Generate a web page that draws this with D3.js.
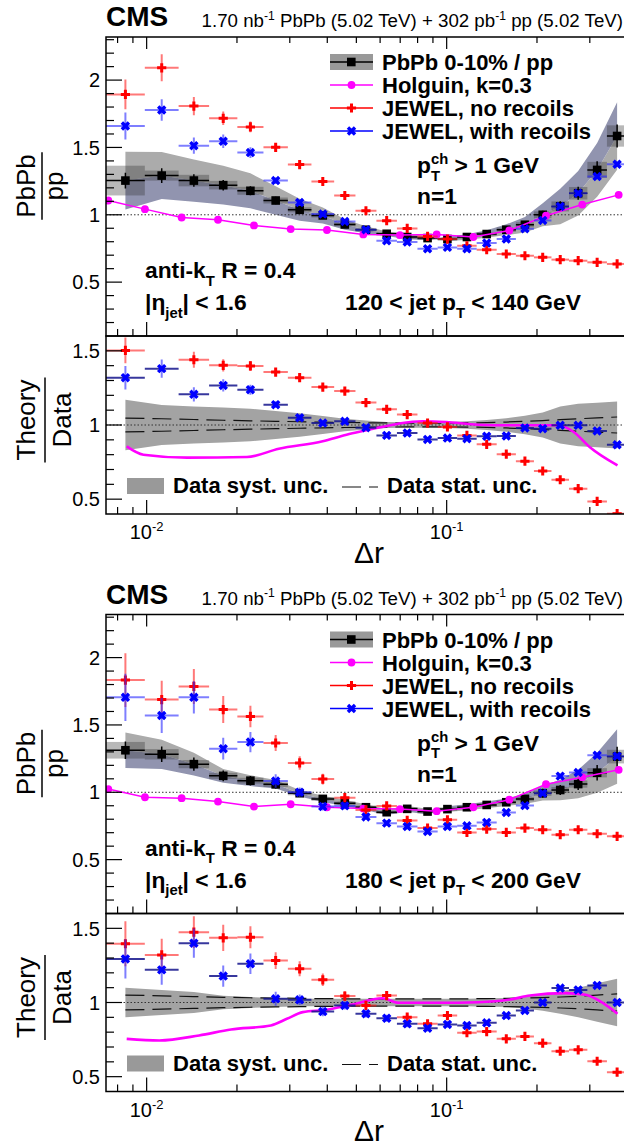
<!DOCTYPE html>
<html>
<head>
<meta charset="utf-8">
<script src="https://cdn.jsdelivr.net/npm/d3@7/dist/d3.min.js"></script>
<style>
  html, body { margin: 0; padding: 0; background: #fff; overflow: hidden; }
  svg { display: block; font-family: "Liberation Sans", Arial, Helvetica, sans-serif; }
  text { white-space: pre; }
</style>
</head>
<body>
<svg id="chart" width="624" height="1146"></svg>
<script>
// Δr bin edges, shared by both jet pT selections
const binEdges = [0.00732, 0.00986, 0.01278, 0.01615, 0.02006, 0.02451, 0.02956, 0.03542, 0.04217, 0.04966, 0.05832, 0.06827, 0.07992, 0.09333, 0.1084, 0.1259, 0.1468, 0.1701, 0.1954, 0.2235, 0.2557, 0.2944, 0.3421, 0.4]
// the Holguin calculation comes on its own Δr grid
const holguinX = [0.00745, 0.00987, 0.01308, 0.01729, 0.02279, 0.0302, 0.0399, 0.05272, 0.06987, 0.09262, 0.1227, 0.1617, 0.2143, 0.2831, 0.3744]

const legendLabels = ['PbPb 0-10% / pp', 'Holguin, k=0.3', 'JEWEL, no recoils', 'JEWEL, with recoils']
const yTicksTop = [0.5, 1, 1.5, 2]
const yTicksBottom = [0.5, 1, 1.5]
const xTickExponents = [-2, -1]

// ---- 120 < jet pT < 140 GeV ----
const ratio120 = [1.254, 1.291, 1.254, 1.22, 1.178, 1.106, 1.037, 0.995, 0.928, 0.889, 0.859, 0.835, 0.827, 0.82, 0.835, 0.857, 0.889, 0.926, 1.0, 1.062, 1.16, 1.333, 1.585]
const stat120 = [0.047, 0.042, 0.037, 0.032, 0.028, 0.025, 0.022, 0.019, 0.017, 0.015, 0.014, 0.013, 0.013, 0.013, 0.014, 0.016, 0.02, 0.025, 0.03, 0.036, 0.042, 0.048, 0.054]
// signed relative shift of the correlated systematic variation
const sys120 = [0.171, 0.135, 0.125, 0.118, 0.11, 0.095, 0.079, 0.06, 0.042, 0.03, 0.02, 0.019, 0.019, -0.02, -0.025, -0.033, -0.045, -0.063, -0.085, -0.124, -0.143, -0.15, -0.158]
const box120 = [0.088, 0.029, 0.034, 0.026, 0.025, 0.02, 0.018, 0.015, 0.015, 0.015, 0.015, 0.015, 0.015, 0.015, 0.015, 0.015, 0.018, 0.02, 0.025, 0.035, 0.04, 0.045, 0.05]
const noRec120 = [1.894, 2.091, 1.807, 1.716, 1.652, 1.501, 1.373, 1.247, 1.143, 1.03, 0.956, 0.899, 0.839, 0.82, 0.77, 0.741, 0.709, 0.696, 0.684, 0.667, 0.659, 0.647, 0.635]
const noRecErr120 = [0.11, 0.1, 0.068, 0.05, 0.04, 0.025, 0.022, 0.02, 0.018, 0.015, 0.012, 0.012, 0.012, 0.012, 0.012, 0.012, 0.01, 0.01, 0.01, 0.01, 0.01, 0.01, 0.01]
const withRec120 = [1.659, 1.778, 1.513, 1.546, 1.462, 1.254, 1.091, 1.005, 0.95, 0.889, 0.807, 0.798, 0.748, 0.758, 0.748, 0.79, 0.82, 0.896, 0.958, 1.062, 1.16, 1.284, 1.375]
const withRecErr120 = [0.1, 0.08, 0.06, 0.05, 0.04, 0.025, 0.022, 0.02, 0.018, 0.015, 0.012, 0.012, 0.012, 0.012, 0.012, 0.012, 0.012, 0.012, 0.012, 0.012, 0.012, 0.012, 0.012]
const holguin120 = [1.106, 1.042, 0.98, 0.963, 0.921, 0.894, 0.887, 0.854, 0.849, 0.854, 0.835, 0.884, 0.993, 1.076, 1.148]
const noRecOverData120 = [1.503, 1.75, 1.44, 1.402, 1.398, 1.357, 1.319, 1.256, 1.229, 1.151, 1.106, 1.07, 1.013, 0.987, 0.93, 0.87, 0.803, 0.756, 0.69, 0.631, 0.571, 0.485, 0.402]
const withRecOverData120 = [1.319, 1.38, 1.207, 1.267, 1.238, 1.137, 1.049, 1.013, 1.025, 0.982, 0.93, 0.946, 0.903, 0.912, 0.908, 0.924, 0.926, 0.98, 0.975, 0.998, 0.998, 0.96, 0.867]
const holguinOverDataX120 = [0.00858, 0.00975, 0.01366, 0.0216, 0.02758, 0.03862, 0.04638, 0.05405, 0.06902, 0.08293, 0.0996, 0.1273, 0.1727, 0.2346, 0.2651, 0.2995, 0.371]
const holguinOverData120 = [0.856, 0.8, 0.78, 0.784, 0.84, 0.89, 0.935, 0.964, 1.009, 1.025, 1.02, 1.002, 0.998, 0.998, 0.953, 0.852, 0.728]

// ---- 180 < jet pT < 200 GeV ----
const ratio180 = [1.312, 1.282, 1.209, 1.122, 1.086, 1.059, 0.993, 0.951, 0.919, 0.889, 0.852, 0.877, 0.857, 0.875, 0.889, 0.906, 0.926, 0.951, 0.993, 1.017, 1.061, 1.145, 1.265]
const stat180 = [0.05, 0.045, 0.04, 0.035, 0.032, 0.03, 0.028, 0.026, 0.025, 0.025, 0.025, 0.025, 0.025, 0.025, 0.025, 0.026, 0.028, 0.03, 0.033, 0.037, 0.042, 0.05, 0.058]
const sys180 = [0.1, 0.085, 0.07, 0.045, 0.037, 0.03, 0.025, 0.025, 0.025, 0.025, 0.025, 0.025, 0.025, -0.025, -0.025, -0.028, -0.03, -0.04, -0.055, -0.075, -0.1, -0.13, -0.16]
const box180 = [0.047, 0.03, 0.025, 0.02, 0.02, 0.018, 0.015, 0.015, 0.015, 0.015, 0.015, 0.015, 0.015, 0.015, 0.015, 0.015, 0.015, 0.018, 0.02, 0.022, 0.025, 0.03, 0.04]
const noRec180 = [1.833, 1.688, 1.786, 1.614, 1.563, 1.366, 1.218, 1.098, 0.96, 0.869, 0.899, 0.791, 0.734, 0.796, 0.702, 0.727, 0.702, 0.734, 0.722, 0.685, 0.722, 0.692, 0.673]
const noRecErr180 = [0.2, 0.14, 0.13, 0.1, 0.08, 0.06, 0.05, 0.04, 0.03, 0.025, 0.022, 0.02, 0.02, 0.02, 0.018, 0.018, 0.015, 0.015, 0.015, 0.015, 0.015, 0.015, 0.015]
const withRec180 = [1.705, 1.57, 1.705, 1.324, 1.373, 1.083, 1.0, 0.894, 0.899, 0.817, 0.771, 0.746, 0.709, 0.746, 0.751, 0.776, 0.85, 0.901, 0.993, 1.12, 1.147, 1.275, 1.268]
const withRecErr180 = [0.175, 0.13, 0.12, 0.08, 0.075, 0.05, 0.035, 0.03, 0.025, 0.022, 0.02, 0.02, 0.02, 0.02, 0.018, 0.018, 0.018, 0.015, 0.015, 0.015, 0.015, 0.015, 0.015]
const holguin180 = [1.024, 0.963, 0.956, 0.931, 0.894, 0.911, 0.889, 0.879, 0.875, 0.86, 0.889, 0.945, 1.06, 1.112, 1.167]
const noRecOverData180 = [1.396, 1.321, 1.474, 1.436, 1.44, 1.283, 1.227, 1.153, 1.043, 0.98, 1.047, 0.901, 0.856, 0.912, 0.796, 0.804, 0.755, 0.771, 0.726, 0.672, 0.681, 0.604, 0.53]
const withRecOverData180 = [1.294, 1.22, 1.4, 1.178, 1.261, 1.025, 1.018, 0.939, 0.98, 0.924, 0.894, 0.856, 0.827, 0.852, 0.845, 0.863, 0.912, 0.946, 1.0, 1.097, 1.085, 1.115, 1.0]
const holguinOverDataX180 = [0.00858, 0.01102, 0.01496, 0.01911, 0.02594, 0.02934, 0.03314, 0.03981, 0.04783, 0.0611, 0.06902, 0.09369, 0.1273, 0.1626, 0.1894, 0.2493, 0.2906, 0.3284, 0.371]
const holguinOverData180 = [0.755, 0.744, 0.778, 0.818, 0.845, 0.89, 0.935, 0.951, 0.984, 1.029, 0.998, 0.998, 1.002, 1.02, 1.047, 1.063, 1.052, 1.002, 0.924]

const X0 = 106
const X1 = 627.3
const TOP_Y0 = 37
const MID_Y = 336
const BOT_Y1 = 514
const FIG_SHIFT = 577.5

const svg = d3.select('#chart')

const x = d3.scaleLog().domain([binEdges[0], binEdges[binEdges.length - 1]]).range([X0, X1])
const yTop = d3.scaleLinear().domain([0.1, 2.32]).range([MID_Y, TOP_Y0])
const yBot = d3.scaleLinear().domain([0.4, 1.6]).range([BOT_Y1, MID_Y])

const bins = d3.range(binEdges.length - 1).map(i => ({
    lo: binEdges[i],
    hi: binEdges[i + 1],
    c: Math.sqrt(binEdges[i] * binEdges[i + 1])
}))

const plusPath = (s, t) => `M${-s},${-t}H${-t}V${-s}H${t}V${-t}H${s}V${t}H${t}V${s}H${-t}V${t}H${-s}Z`
const redMarker = plusPath(4.6, 1.5)
const blueMarker = plusPath(5, 1.7)

// text with sub/superscripts laid out piece by piece
const rich = (parent, px, py, segs, size, opts = {}) => {
    const g = parent.append('g').attr('font-weight', opts.weight || 'normal')
    let cx = 0
    const put = (s, dy, fs) => {
        const t = g.append('text').attr('x', cx).attr('y', dy).attr('font-size', fs).text(s)
        return t.node().getComputedTextLength()
    }
    segs.forEach(s => {
        if (typeof s === 'string') {
            cx += put(s, 0, size)
            return
        }
        let w = 0
        if (s.sup) w = Math.max(w, put(s.sup, -0.38 * size, 0.65 * size))
        if (s.sub) w = Math.max(w, put(s.sub, 0.34 * size, 0.65 * size))
        cx += w
    })
    const shift = opts.anchor === 'end' ? -cx : opts.anchor === 'middle' ? -cx / 2 : 0
    g.attr('transform', `translate(${px + shift},${py})`)
    return g
}

const fraction = (parent, cx, cy, num, den, size, numOff, denOff) => {
    const g = parent.append('g')
        .attr('transform', `translate(${cx},${cy}) rotate(-90)`)
        .attr('font-size', size)
    const a = g.append('text').attr('text-anchor', 'middle').attr('y', numOff).text(num)
    const b = g.append('text').attr('text-anchor', 'middle').attr('y', denOff).text(den)
    const w = Math.max(a.node().getComputedTextLength(), b.node().getComputedTextLength()) + 4
    g.append('line').attr('x1', -w / 2).attr('x2', w / 2).attr('stroke', '#000').attr('stroke-width', 1.5)
}

const errorBars = (sel, pts, yS, val, err, hColor, vColor, width) => {
    sel.selectAll(null).data(pts).join('line')
        .attr('x1', p => x(p.lo)).attr('x2', p => x(p.hi))
        .attr('y1', p => yS(val(p))).attr('y2', p => yS(val(p)))
        .attr('stroke', hColor).attr('stroke-width', width)
    sel.selectAll(null).data(pts).join('line')
        .attr('x1', p => x(p.c)).attr('x2', p => x(p.c))
        .attr('y1', p => yS(val(p) - err(p))).attr('y2', p => yS(val(p) + err(p)))
        .attr('stroke', vColor).attr('stroke-width', width)
}

const markers = (sel, pts, yS, val, path, color) => {
    sel.selectAll(null).data(pts).join('path')
        .attr('transform', p => `translate(${x(p.c)},${yS(val(p))})${path === blueMarker ? ' rotate(45)' : ''}`)
        .attr('d', path)
        .attr('fill', color)
}

const drawAxes = (g, yS, yA, yB, yMinor, yLabels, topTicks) => {
    const ticks = x.ticks()
    const isMajor = v => Math.abs(Math.log10(v) - Math.round(Math.log10(v))) < 1e-6
    g.selectAll(null).data(ticks).join('line')
        .attr('x1', d => x(d)).attr('x2', d => x(d))
        .attr('y1', yB).attr('y2', d => yB - (isMajor(d) ? 14 : 7))
        .attr('stroke', '#000').attr('stroke-width', 1.2)
    if (topTicks) {
        g.selectAll(null).data(ticks).join('line')
            .attr('x1', d => x(d)).attr('x2', d => x(d))
            .attr('y1', yA).attr('y2', d => yA + (isMajor(d) ? 12 : 6))
            .attr('stroke', '#000').attr('stroke-width', 1.2)
    }
    g.selectAll(null).data(yMinor).join('line')
        .attr('x1', X0).attr('x2', d => X0 + (yLabels.includes(d) ? 16 : 8))
        .attr('y1', d => yS(d)).attr('y2', d => yS(d))
        .attr('stroke', '#000').attr('stroke-width', 1.2)
    g.selectAll(null).data(yLabels).join('text')
        .attr('x', 100).attr('y', d => yS(d)).attr('dy', '0.36em')
        .attr('text-anchor', 'end').attr('font-size', 20)
        .text(d => d3.format('~g')(d))
    g.append('rect')
        .attr('x', X0).attr('y', yA).attr('width', X1 - X0).attr('height', yB - yA)
        .attr('fill', 'none').attr('stroke', '#000').attr('stroke-width', 1.5)
}

const drawFigure = (f) => {
    const g = svg.append('g').attr('transform', `translate(0,${f.offset})`)
    const pts = bins.map((b, i) => ({
        ...b,
        v: f.ratio[i], stat: f.stat[i], sys: f.sys[i], box: f.box[i],
        red: f.noRec[i], redErr: f.noRecErr[i],
        blue: f.withRec[i], blueErr: f.withRecErr[i],
        redR: f.noRecOverData[i], blueR: f.withRecOverData[i]
    }))

    const defs = g.append('defs')
    defs.append('clipPath').attr('id', `clipTop${f.id}`).append('rect')
        .attr('x', X0).attr('y', TOP_Y0).attr('width', X1 - X0).attr('height', MID_Y - TOP_Y0)
    defs.append('clipPath').attr('id', `clipBot${f.id}`).append('rect')
        .attr('x', X0).attr('y', MID_Y).attr('width', X1 - X0).attr('height', BOT_Y1 - MID_Y)

    // Title
    rich(g, X0, 26, ['CMS'], 28, { weight: 'bold' })
    rich(g, 623, 27, ['1.70 nb', { sup: '-1' }, ' PbPb (5.02 TeV) + 302 pb', { sup: '-1' }, ' pp (5.02 TeV)'], 18.7, { anchor: 'end' })

    // ---- upper panel ----
    const up = g.append('g').attr('clip-path', `url(#clipTop${f.id})`)
    up.append('path').datum(pts)
        .attr('d', d3.area().x(p => x(p.c)).y0(p => yTop(p.v)).y1(p => yTop(p.v * (1 + p.sys))))
        .attr('fill', '#ababab')
    up.append('path').datum(pts)
        .attr('d', d3.area().x(p => x(p.c)).y0(p => yTop(p.v)).y1(p => yTop(p.v * (1 - p.sys))))
        .attr('fill', '#9194af')
    up.selectAll(null).data(pts).join('rect')
        .attr('x', p => x(p.lo)).attr('width', p => x(p.hi) - x(p.lo))
        .attr('y', p => yTop(p.v * (1 + p.box)))
        .attr('height', p => yTop(p.v * (1 - p.box)) - yTop(p.v * (1 + p.box)))
        .attr('fill', '#333').attr('opacity', 0.35)
    up.append('line')
        .attr('x1', X0).attr('x2', X1).attr('y1', yTop(1)).attr('y2', yTop(1))
        .attr('stroke', '#333').attr('stroke-width', 1).attr('stroke-dasharray', '1.5,2')

    errorBars(up, pts, yTop, p => p.v, p => p.v * p.stat, '#000', '#000', 1.5)
    up.selectAll(null).data(pts).join('rect')
        .attr('x', p => x(p.c) - 4.3).attr('y', p => yTop(p.v) - 4.3)
        .attr('width', 8.6).attr('height', 8.6).attr('fill', '#000')

    const hol = holguinX.map((hx, i) => ({ x: hx, y: f.holguin[i] }))
    up.append('path').datum(hol)
        .attr('d', d3.line().x(d => x(d.x)).y(d => yTop(d.y)))
        .attr('fill', 'none').attr('stroke', '#ff00ff').attr('stroke-width', 1.5)
    up.selectAll(null).data(hol).join('circle')
        .attr('cx', d => x(d.x)).attr('cy', d => yTop(d.y)).attr('r', 3.9).attr('fill', '#ff00ff')

    errorBars(up, pts, yTop, p => p.red, p => p.redErr, 'rgba(255,30,30,0.6)', 'rgba(255,30,30,0.6)', 2)
    markers(up, pts, yTop, p => p.red, redMarker, '#ff0000')
    errorBars(up, pts, yTop, p => p.blue, p => p.blueErr, 'rgba(40,40,255,0.6)', 'rgba(40,40,255,0.6)', 2)
    markers(up, pts, yTop, p => p.blue, blueMarker, '#0000ff')

    // legend
    const leg = g.append('g')
    legendLabels.forEach((label, i) => {
        const cy = 62 + i * 23
        if (i === 0) {
            leg.append('rect').attr('x', 330).attr('y', cy - 8).attr('width', 43).attr('height', 16).attr('fill', '#999')
        }
        const color = ['#000', '#ff00ff', '#ff0000', '#0000ff'][i]
        leg.append('line').attr('x1', 330).attr('x2', 373).attr('y1', cy).attr('y2', cy)
            .attr('stroke', color).attr('stroke-width', 1.5)
        if (i === 0) leg.append('rect').attr('x', 347).attr('y', cy - 4.3).attr('width', 8.6).attr('height', 8.6)
        if (i === 1) leg.append('circle').attr('cx', 351.5).attr('cy', cy).attr('r', 3.9).attr('fill', color)
        if (i === 2) leg.append('path').attr('d', redMarker).attr('transform', `translate(351.5,${cy})`).attr('fill', color)
        if (i === 3) leg.append('path').attr('d', blueMarker).attr('transform', `translate(351.5,${cy}) rotate(45)`).attr('fill', color)
        rich(leg, 382, cy + 8, [label], 22, { weight: 'bold' })
    })

    rich(g, 417, 173, ['p', { sub: 'T', sup: 'ch' }, ' > 1 GeV'], 22.8, { weight: 'bold' })
    rich(g, 417, 204, ['n=1'], 22.8, { weight: 'bold' })
    rich(g, 145, 278, ['anti-k', { sub: 'T' }, ' R = 0.4'], 22.8, { weight: 'bold' })
    rich(g, 145, 310, ['|η', { sub: 'jet' }, '| < 1.6'], 22.8, { weight: 'bold' })
    rich(g, 345, 310, [f.ptLabel[0], { sub: 'T' }, f.ptLabel[1]], 22.8, { weight: 'bold' })

    drawAxes(g, yTop, TOP_Y0, MID_Y, d3.range(2, 24).map(i => i / 10), yTicksTop, true)
    fraction(g, 42, 186, 'PbPb', 'pp', 26, -7, 21)

    // ---- lower panel ----
    const lo = g.append('g').attr('clip-path', `url(#clipBot${f.id})`)
    lo.append('path').datum(pts)
        .attr('d', d3.area().x(p => x(p.c)).y0(p => yBot(1 - Math.abs(p.sys))).y1(p => yBot(1 + Math.abs(p.sys))))
        .attr('fill', '#a3a3a3')
    ;[1, -1].forEach(sgn => {
        lo.append('path').datum(pts)
            .attr('d', d3.line().x(p => x(p.c)).y(p => yBot(1 + sgn * p.stat)))
            .attr('fill', 'none').attr('stroke', '#111').attr('stroke-width', 1.2).attr('stroke-dasharray', '19,8')
    })
    lo.append('line')
        .attr('x1', X0).attr('x2', X1).attr('y1', yBot(1)).attr('y2', yBot(1))
        .attr('stroke', '#333').attr('stroke-width', 1).attr('stroke-dasharray', '1.5,2')
    const curve = f.curveX.map((cx, i) => ({ x: cx, y: f.curveY[i] }))
    lo.append('path').datum(curve)
        .attr('d', d3.line().curve(d3.curveMonotoneX).x(d => x(d.x)).y(d => yBot(d.y)))
        .attr('fill', 'none').attr('stroke', '#ff00ff').attr('stroke-width', 2.6)

    errorBars(lo, pts, yBot, p => p.redR, p => p.redR * p.redErr / p.red, 'rgba(255,30,30,0.6)', 'rgba(255,30,30,0.6)', 2)
    markers(lo, pts, yBot, p => p.redR, redMarker, '#ff0000')
    errorBars(lo, pts, yBot, p => p.blueR, p => p.blueR * p.blueErr / p.blue, 'rgba(20,20,140,0.85)', 'rgba(40,40,255,0.6)', 2)
    markers(lo, pts, yBot, p => p.blueR, blueMarker, '#0000ff')

    g.append('rect').attr('x', 127).attr('y', 478).attr('width', 37).attr('height', 16).attr('fill', '#999')
    rich(g, 173, 493, ['Data syst. unc.'], 22, { weight: 'bold' })
    g.append('line').attr('x1', 342).attr('x2', 378).attr('y1', 487).attr('y2', 487)
        .attr('stroke', '#111').attr('stroke-width', 1.2).attr('stroke-dasharray', '19,8')
    rich(g, 387, 493, ['Data stat. unc.'], 22, { weight: 'bold' })

    drawAxes(g, yBot, MID_Y, BOT_Y1, d3.range(5, 16).map(i => i / 10), yTicksBottom, false)
    fraction(g, 45, 420, 'Theory', 'Data', 26, -10, 26)

    xTickExponents.forEach(e => {
        rich(g, x(Math.pow(10, e)), 539, ['10', { sup: String(e) }], 20, { anchor: 'middle' })
    })
    rich(g, 369, 563, ['Δr'], 30, { anchor: 'middle' })
}

drawFigure({
    id: 'a', offset: 0, ptLabel: ['120 < jet p', ' < 140 GeV'],
    ratio: ratio120, stat: stat120, sys: sys120, box: box120,
    noRec: noRec120, noRecErr: noRecErr120, withRec: withRec120, withRecErr: withRecErr120,
    holguin: holguin120, noRecOverData: noRecOverData120, withRecOverData: withRecOverData120,
    curveX: holguinOverDataX120, curveY: holguinOverData120
})
drawFigure({
    id: 'b', offset: FIG_SHIFT, ptLabel: ['180 < jet p', ' < 200 GeV'],
    ratio: ratio180, stat: stat180, sys: sys180, box: box180,
    noRec: noRec180, noRecErr: noRecErr180, withRec: withRec180, withRecErr: withRecErr180,
    holguin: holguin180, noRecOverData: noRecOverData180, withRecOverData: withRecOverData180,
    curveX: holguinOverDataX180, curveY: holguinOverData180
})
</script>
</body>
</html>
